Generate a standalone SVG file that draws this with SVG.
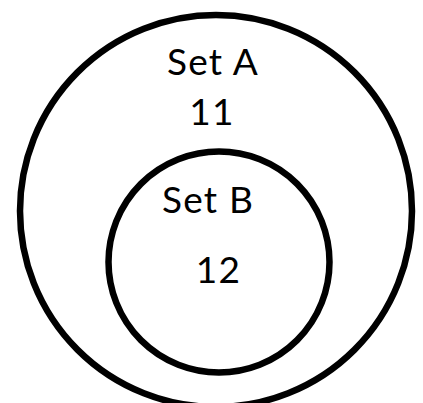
<svg xmlns="http://www.w3.org/2000/svg" width="423" height="403" viewBox="0 0 423 403">
<style>
.c{fill:none;stroke:#000;stroke-width:6.5}
.t{font-family:Lato,"Open Sans","Liberation Sans",sans-serif;font-size:37px;letter-spacing:1.2px;fill:#000;text-anchor:middle}
</style>
<rect width="423" height="403" fill="#fff"/>
<g id="setA">
<circle class="c" cx="216" cy="211" r="196"/>
<text class="t" x="213" y="75">Set A</text>
<text class="t" x="212" y="125">11</text>
</g>
<g id="setB">
<circle class="c" cx="219" cy="262" r="110.5"/>
<text class="t" x="208" y="213">Set B</text>
<text class="t" x="218.5" y="283">12</text>
</g>
<g id="connectors"/>
</svg>
